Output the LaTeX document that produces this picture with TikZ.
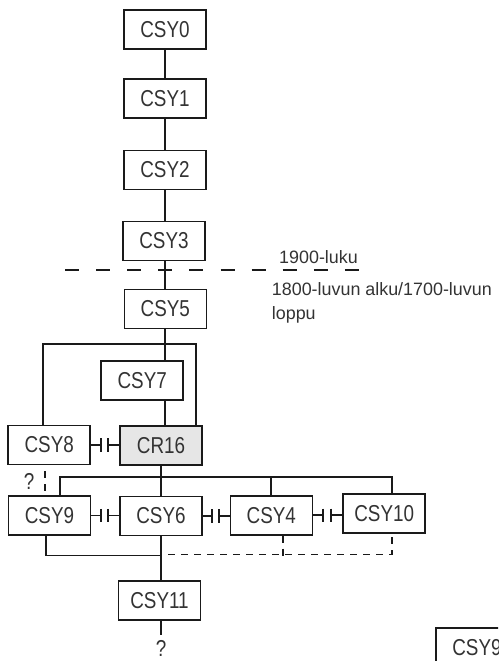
\documentclass[tikz,border=0pt]{standalone}
\usepackage{fontspec}
\setmainfont{Liberation Sans}
\newfontfamily\condfont[FakeStretch=0.82]{Liberation Sans}
\usetikzlibrary{calc}
\definecolor{ink}{HTML}{1A1A1A}
\definecolor{txt}{HTML}{333333}
\definecolor{hilite}{HTML}{E6E6E6}
\newcommand\inhibit[2]{%
  \path (#1.east) -- (#2.west |- #1.east) coordinate[pos=0.34] (#1-i1) coordinate[pos=0.6] (#1-i2);
  \draw[conn] (#1.east) -- (#1-i1) ($(#1-i1)+(0,-6.7)$) -- ($(#1-i1)+(0,6.7)$);
  \draw[conn] (#2.west |- #1.east) -- (#1-i2) ($(#1-i2)+(0,-6.7)$) -- ($(#1-i2)+(0,6.7)$);
}
\begin{document}
\begin{tikzpicture}[x=1pt,y=-1pt,
  box/.style={draw=ink,line width=1.6pt,minimum width=82pt,minimum height=39pt,inner sep=0pt,font=\condfont\fontsize{23}{23}\selectfont,text=txt},
  conn/.style={draw=ink,line width=1.9pt},
  dsh/.style={conn,dash pattern=on 7pt off 6pt},
  eraline/.style={conn,line width=1.7pt,dash pattern=on 14pt off 17.1pt},
  lbl/.style={font=\fontsize{17.9}{20}\selectfont,text=txt,inner sep=0pt,anchor=base west},
  qm/.style={font=\condfont\fontsize{23}{23}\selectfont,text=txt,inner sep=0pt}]
\useasboundingbox (0,0) rectangle (498,661);
\clip (0,0) rectangle (498,661);
% boxes
\node[box] (csy0) at (165,29.7) {CSY0};
\node[box] (csy1) at (165,98.3) {CSY1};
\node[box] (csy2) at (165,170) {CSY2};
\node[box] (csy3) at (164,240.8) {CSY3};
\node[box] (csy5) at (165.3,308.8) {CSY5};
\node[box] (csy7) at (142.2,380.5) {CSY7};
\node[box] (csy8) at (49.2,445) {CSY8};
\node[box,fill=hilite] (cr16) at (161,445.5) {CR16};
\node[box] (csy9) at (49.5,515.5) {CSY9};
\node[box] (csy6) at (161,516) {CSY6};
\node[box] (csy4) at (271.3,515.3) {CSY4};
\node[box] (csy10) at (384.2,513.5) {CSY10};
\node[box] (csy11) at (159.5,600.3) {CSY11};
\node[box] (csy9b) at (477,647.5) {CSY9};
% top chain
\draw[conn] (csy0.south) -- (csy0.south |- csy1.north);
\draw[conn] (csy1.south) -- (csy1.south |- csy2.north);
\draw[conn] (csy2.south) -- (csy2.south |- csy3.north);
\draw[conn] (csy3.south -| csy5) -- (csy5.north);
% era line and labels
\coordinate (eraL) at (65,270);
\coordinate (eraR) at (360,270);
\draw[eraline] (eraL) -- (eraR);
\node[lbl] (era1) at (279,263.3) {1900-luku};
\node[lbl] (era2) at (271.7,295) {1800-luvun alku/1700-luvun};
\node[lbl] (era3) at (271.7,319.5) {loppu};
% frame around CSY7
\coordinate (frL) at (43.3,344.3);
\coordinate (frR) at (196,344.3);
\draw[conn] (csy8.north -| frL) -- (frL) -- (frR) -- (cr16.north -| frR);
\draw[conn] (csy5.south) -- (csy5.south |- csy7.north);
\draw[conn] (csy7.south -| csy5) -- (cr16.north -| csy5);
% inhibitions
\inhibit{csy8}{cr16}
\inhibit{csy9}{csy6}
\inhibit{csy6}{csy4}
\inhibit{csy4}{csy10}
% bus below CR16
\coordinate (bus) at (161,477.3);
\draw[conn] (cr16.south) -- (csy6.north);
\draw[conn] ($(csy9.north)+(10.5,0)$) |- (bus) -| ($(csy10.north)+(7.5,0)$);
\draw[conn] (csy4.north) -- (csy4.north |- bus);
% uncertain link CSY8 - CSY9
\node[qm] (q1) at (29,481.7) {?};
\draw[dsh,dash phase=7pt] ($(csy8.south)+(-4.2,0)$) -- ($(csy9.north)+(-4.5,0)$);
% lower joins
\coordinate (join) at (161,555.5);
\draw[conn] ($(csy9.south)+(-3.8,0)$) |- (join);
\draw[conn] (csy6.south) -- (csy6.south |- csy11.north);
\draw[dsh] ($(join)+(7.3,-1)$) -| ($(csy10.south)+(7.5,0)$);
\coordinate (c4d) at ($(csy4.south)+(12,0)$);
\draw[dsh] (c4d) -- (c4d |- join);
% below CSY11
\coordinate (q2top) at (161,635);
\node[qm] (q2) at (161,648.5) {?};
\draw[conn] (csy11.south -| q2top) -- (q2top);
\end{tikzpicture}
\end{document}
